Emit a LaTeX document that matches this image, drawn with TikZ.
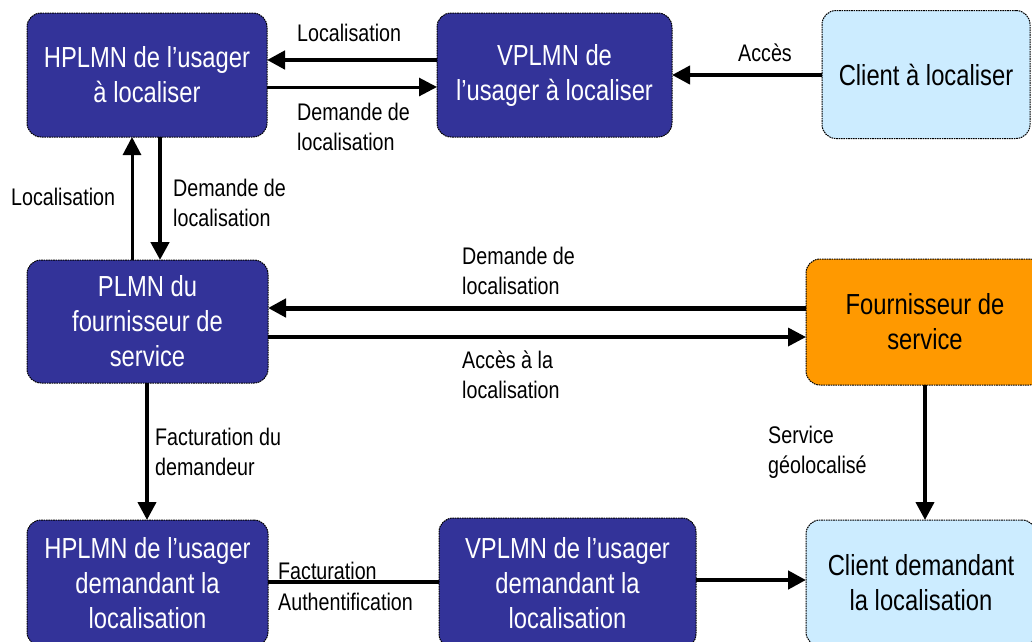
\documentclass[tikz,border=0pt]{standalone}
\usepackage{fontspec}
\setmainfont[FakeStretch=0.82]{Liberation Sans}
\usetikzlibrary{arrows.meta}
\definecolor{netblue}{HTML}{333399}
\definecolor{clientblue}{HTML}{CCECFF}
\definecolor{provider}{HTML}{FF9900}
\begin{document}
\begin{tikzpicture}[x=1pt,y=-1pt,
  box/.style={draw=black, line width=1pt, dash pattern=on 1.6pt off 0.8pt,
    rounded corners=14pt, inner sep=0pt, outer sep=0pt, align=center,
    font=\fontsize{29}{35}\selectfont},
  net/.style={box, fill=netblue, text=white},
  client/.style={box, fill=clientblue, text=black},
  prov/.style={box, fill=provider, text=black},
  lbl/.style={inner sep=0pt, anchor=west, align=left,
    font=\fontsize{24}{30}\selectfont},
  arr/.style={-{Triangle[length=18pt,width=18pt]}, line width=#1},
  arr/.default=4,
  link/.style={line width=#1},
  link/.default=4]

\useasboundingbox (0,0) rectangle (1032,641);
\clip (0,0) rectangle (1032,641);

% networks and actors
\node[net, minimum width=240, minimum height=124] (hA) at (147,75) {HPLMN de l’usager\\à localiser};
\node[net, minimum width=235, minimum height=124] (vA) at (554.5,75) {VPLMN de\\l’usager à localiser};
\node[client, minimum width=208, minimum height=128] (cA) at (926,74.5) {Client à localiser};
\node[net, minimum width=241, minimum height=123] (pF) at (147.5,321.5) {PLMN du\\fournisseur de\\service};
\node[prov, minimum width=238, minimum height=126] (fS) at (925,322) {Fournisseur de\\service};
\node[net, minimum width=241, minimum height=126] (hB) at (147.5,583) {HPLMN de l’usager\\demandant la\\localisation};
\node[net, minimum width=257, minimum height=130] (vB) at (567.5,583) {VPLMN de l’usager\\demandant la\\localisation};
\node[client, minimum width=230, minimum height=126] (cB) at (921,583) {Client demandant\\la localisation};

% exchanges
\draw[arr=4.5] (vA.west |- 0,60) -- (hA.east |- 0,60);
\draw[arr=3] (hA.east |- 0,87) -- (vA.west |- 0,87);
\draw[arr=4] (cA.west |- 0,75) -- (vA.east |- 0,75);
\draw[arr=3] (pF.north -| 132,0) -- (hA.south -| 132,0);
\draw[arr=4.5] (hA.south -| 160,0) -- (pF.north -| 160,0);
\draw[arr=5] (fS.west |- 0,308) -- (pF.east |- 0,308);
\draw[arr=3.5] (pF.east |- 0,337) -- (fS.west |- 0,337);
\draw[arr=4] (pF.south -| 147,0) -- (hB.north -| 147,0);
\draw[arr=4] (fS.south -| 925,0) -- (cB.north -| 925,0);
\draw[link=4.5] (hB.east |- 0,582) -- (vB.west |- 0,582);
\draw[arr=4.5] (vB.east |- 0,580) -- (cB.west |- 0,580);

% labels
\node[lbl] (l1) at (297,33) {Localisation};
\node[lbl] (l2) at (297,127) {Demande de\\localisation};
\node[lbl] (l3) at (738,53) {Accès};
\node[lbl] (l4) at (11,197) {Localisation};
\node[lbl] (l5) at (173,202.5) {Demande de\\localisation};
\node[lbl] (l6) at (462,270.5) {Demande de\\localisation};
\node[lbl] (l7) at (462,375) {Accès à la\\localisation};
\node[lbl] (l8) at (155,452) {Facturation du\\demandeur};
\node[lbl] (l9) at (768,452) {Service\\géolocalisé};
\node[lbl, font=\fontsize{24}{31}\selectfont] (l10) at (278,586.5) {Facturation\\Authentification};
\end{tikzpicture}
\end{document}
